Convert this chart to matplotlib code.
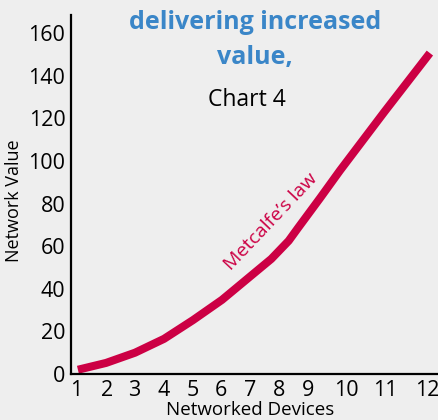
import matplotlib
matplotlib.use("Agg")
import matplotlib.pyplot as plt

# curve (x in device-position units, y network value)
curve_x = [1.03, 2.0, 3.0, 4.0, 5.0, 6.0, 7.0, 7.7, 8.3, 8.62, 9.38, 10.07, 11.6, 13.17]
curve_y = [2.0, 5.2, 10.0, 16.5, 25.3, 34.8, 46.1, 54.0, 62.5, 68.5, 82.5, 95.5, 123.0, 150.6]

# x tick labels are not evenly spaced in the original
xtick_pos = [0.97, 2.03, 2.97, 4.0, 5.0, 5.97, 6.97, 7.97, 8.97, 10.28, 11.62, 13.07]
xtick_labels = ["1", "2", "3", "4", "5", "6", "7", "8", "9", "10", "11", "12"]
ytick_vals = [0, 20, 40, 60, 80, 100, 120, 140, 160]

bg = "#eeeeee"
red = "#cc0044"
blue = "#3a86c8"

plt.rcParams['font.family'] = ['Open Sans', 'DejaVu Sans']

fig = plt.figure(figsize=(4.38, 4.20), dpi=100)
fig.patch.set_facecolor(bg)
ax = fig.add_axes([0.162, 0.1095, 0.838, 0.855])
ax.set_facecolor(bg)

ax.plot(curve_x, curve_y, color=red, lw=5.8, solid_capstyle='butt', solid_joinstyle='round')

ax.set_xlim(0.79, 13.45)
ax.set_ylim(0, 168.5)

ax.set_xticks(xtick_pos)
ax.set_xticklabels(xtick_labels)
ax.set_yticks(ytick_vals)
ax.tick_params(axis='x', length=0, pad=4, labelsize=15.5)
ax.tick_params(axis='y', length=0, pad=4, labelsize=15.5)

for s in ['top', 'right']:
    ax.spines[s].set_visible(False)
for s in ['left', 'bottom']:
    ax.spines[s].set_linewidth(1.6)
    ax.spines[s].set_color('black')

fig.text(0.033, 0.522, "Network Value", rotation=90, ha='center', va='center', fontsize=13)
fig.text(0.571, 0.024, "Networked Devices", ha='center', va='center', fontsize=13.5)

fig.text(0.582, 0.947, "delivering increased", ha='center', va='center',
         fontsize=18, fontweight='bold', color=blue)
fig.text(0.582, 0.864, "value,", ha='center', va='center',
         fontsize=18, fontweight='bold', color=blue)
fig.text(0.564, 0.762, "Chart 4", ha='center', va='center', fontsize=16.5)

ax.text(7.7, 71.5, "Metcalfe’s law", rotation=46.5, ha='center', va='center',
        fontsize=14, color=red, rotation_mode='anchor')

fig.savefig("out.png", dpi=100, facecolor=bg)
